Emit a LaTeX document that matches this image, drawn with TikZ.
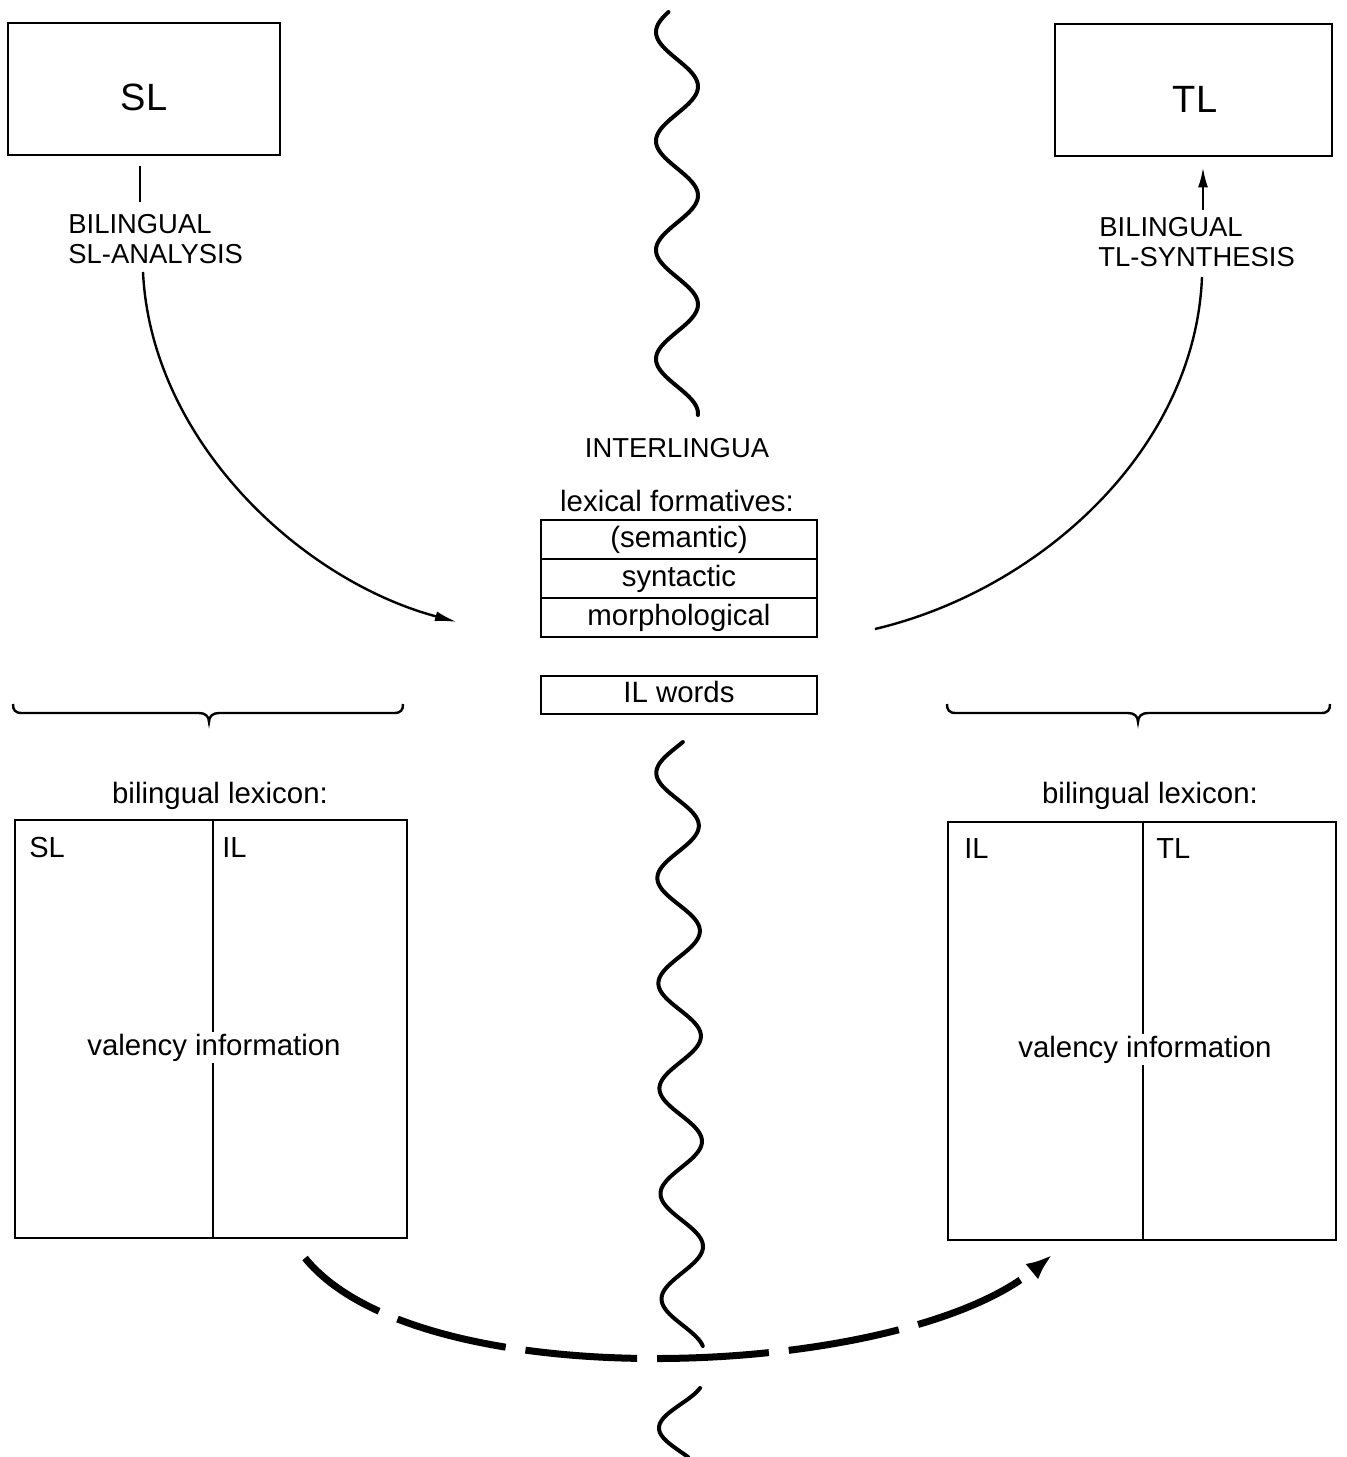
\documentclass[tikz,border=0pt]{standalone}
\usepackage{fontspec}
\setmainfont{Liberation Sans}
\usetikzlibrary{arrows.meta}
\begin{document}
\begin{tikzpicture}[x=0.5pt,y=-0.5pt,
  boxn/.style={draw,line width=1.35pt,inner sep=0pt},
  rown/.style={draw,line width=1.2pt,inner sep=0pt,minimum width=138pt,minimum height=19.5pt,
     text height=10.5pt,text depth=3pt,font=\fontsize{14.7}{16}\selectfont},
  big/.style={inner sep=0pt,anchor=base,font=\fontsize{19}{21}\selectfont},
  lbl/.style={inner sep=0pt,anchor=base,font=\fontsize{14.7}{16}\selectfont},
  lblw/.style={inner sep=0pt,anchor=base west,font=\fontsize{14.5}{16}\selectfont},
  caps/.style={inner sep=0pt,anchor=base west,font=\fontsize{13.7}{15}\selectfont},
  thinl/.style={line width=1.2pt},
  wave/.style={line width=2pt,line cap=round},
  bracel/.style={line width=1.2pt},
  arr/.style={-{Latex[length=11pt,width=5pt]}}
]
\useasboundingbox (0,0) rectangle (1346,1457);

% top boxes
\node[boxn,minimum width=136pt,minimum height=66pt] (sl) at (144,89) {};
\node[big] (sltxt) at (144,110) {SL};
\node[boxn,minimum width=138.5pt,minimum height=66pt] (tl) at (1193.5,90) {};
\node[big] (tltxt) at (1195,112) {TL};

% process labels
\node[caps] (bilL1) at (68,233) {BILINGUAL};
\node[caps] (bilL2) at (68,263) {SL-ANALYSIS};
\node[caps] (bilR1) at (1099,236) {BILINGUAL};
\node[caps] (bilR2) at (1098,266) {TL-SYNTHESIS};

% interlingua
\node[caps,anchor=base] (il) at (677,457) {INTERLINGUA};
\node[lbl] (lexf) at (677,511) {lexical formatives:};
\node[rown] (sem) at (679,539.5) {(semantic)};
\node[rown] (syn) at (679,578.5) {syntactic};
\node[rown] (mor) at (679,617.5) {morphological};
\node[rown,minimum height=19pt] (ilw) at (679,695) {IL words};

% connectors top-left
\coordinate (tickL) at (140,202);
\draw[thinl,shorten <=5pt] (sl.south -| tickL) -- (tickL);
\coordinate (arcLs) at (143,272);
\coordinate (arcLe) at (457,622);
\draw[thinl,arr] (arcLs) .. controls (151,440) and (300,580) .. (arcLe);

% connectors top-right
\coordinate (upR) at (1203,210);
\draw[thinl,-{Latex[length=10pt,width=5pt]},shorten >=5pt] (upR) -- (tl.south -| upR);
\coordinate (arcRs) at (1202,277);
\coordinate (arcRe) at (875,629);
\draw[thinl] (arcRs) .. controls (1195,450) and (1040,590) .. (arcRe);

% braces
\draw[bracel] (13,704) .. controls (13,710) and (15,713) .. (22,713) -- (199,713)
  .. controls (205,713) and (209,716) .. (209,722)
  .. controls (209,716) and (213,713) .. (219,713) -- (394,713)
  .. controls (401,713) and (403,710) .. (403,704);
\draw[bracel] (947,704) .. controls (947,710) and (949,713) .. (956,713) -- (1128,713)
  .. controls (1134,713) and (1138,716) .. (1138,722)
  .. controls (1138,716) and (1142,713) .. (1148,713) -- (1321,713)
  .. controls (1328,713) and (1330,710) .. (1330,704);

% lexicons
\node[lbl] (bilexL) at (220,803) {bilingual lexicon:};
\node[lbl] (bilexR) at (1150,803) {bilingual lexicon:};
\node[boxn,minimum width=196pt,minimum height=209pt] (lexL) at (211,1029) {};
\node[boxn,minimum width=194pt,minimum height=209pt] (lexR) at (1142,1031) {};
\draw[line width=1.35pt] ([xshift=1pt]lexL.north) -- ([xshift=1pt]lexL.south);
\draw[line width=1.35pt] ([xshift=0.5pt]lexR.north) -- ([xshift=0.5pt]lexR.south);
\node[lblw] (lsl) at (29,857) {SL};
\node[lblw] (lil) at (222,857) {IL};
\node[lblw] (ril) at (964,858) {IL};
\node[lblw] (rtl) at (1156,858) {TL};
\node[lbl,fill=white,inner sep=1pt] (valL) at (214,1055) {valency information};
\node[lbl,fill=white,inner sep=1pt] (valR) at (1145,1057) {valency information};

% wavy boundary
\draw[wave] plot[domain=12:415,samples=200,smooth] ({677-21*cos((\x-32)*3.3028)},\x);
\draw[wave] plot[domain=742:1346,samples=300,smooth] ({677+(\x-742)*0.00993-21*cos((\x-773)*3.4221)},\x);
\draw[wave] plot[domain=1388:1457,samples=60,smooth] ({681+22*cos((\x-1380)*3.75)},\x);

% dashed transfer arc
\coordinate (dA) at (305,1258);
\coordinate (dB) at (1052,1255);
\draw[line width=3.5pt,dash pattern=on 56pt off 10pt,dash phase=10pt,
  -{Latex[length=13pt,width=10pt]}] (dA) .. controls (420,1400) and (900,1380) .. (dB);
\end{tikzpicture}
\end{document}
